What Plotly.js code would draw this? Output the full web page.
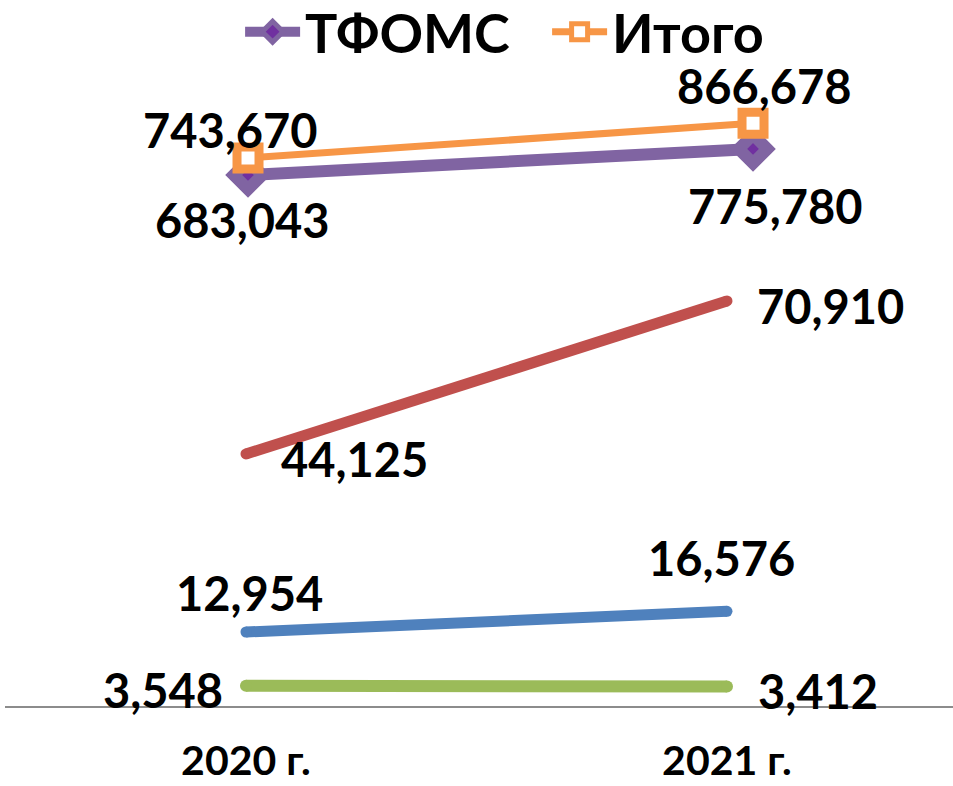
<!DOCTYPE html>
<html>
<head>
<meta charset="utf-8">
<script src="https://cdn.plot.ly/plotly-3.0.1.min.js"></script>
<style>html,body{margin:0;padding:0;background:#fff;}#chart{width:953px;height:786px;}</style>
</head>
<body>
<div id="chart"></div>
<script>
const categories = ["2020 г.", "2021 г."];
const seriesGreen = [3548, 3412];
const seriesBlue = [12954, 16576];
const seriesRed = [44125, 70910];
const seriesTfoms = [683043, 775780];
const seriesTotal = [743670, 866678];
const nameTfoms = "ТФОМС";
const nameTotal = "Итого";

const FONT = "Lato, 'Open Sans', sans-serif";
const fmt = v => v.toLocaleString("en-US");

function lineTrace(vals, color, w, xa, ya) {
  return {
    x: categories, y: vals, type: "scatter", mode: "lines+markers",
    line: {color: color, width: w},
    marker: {symbol: "circle", size: w, color: color},
    xaxis: xa, yaxis: ya, showlegend: false, hoverinfo: "skip"
  };
}

const traces = [
  lineTrace(seriesGreen, "#9BBB59", 12, "x", "y"),
  lineTrace(seriesBlue, "#4F81BD", 11, "x", "y"),
  lineTrace(seriesRed, "#C0504D", 11, "x", "y"),
  {
    x: categories, y: seriesTfoms, name: nameTfoms, type: "scatter", mode: "lines+markers",
    line: {color: "#8064A2", width: 12},
    marker: {symbol: "diamond", size: 22, color: "#7030A0", line: {color: "#8064A2", width: 12}},
    xaxis: "x2", yaxis: "y2", hoverinfo: "skip"
  },
  {
    x: categories, y: seriesTotal, name: nameTotal, type: "scatter", mode: "lines+markers",
    line: {color: "#F79646", width: 7},
    marker: {symbol: "square", size: 22, color: "#FFFFFF", line: {color: "#F79646", width: 9}},
    xaxis: "x2", yaxis: "y2", hoverinfo: "skip"
  }
];

function labels(vals, xref, yref, shifts) {
  return vals.map((v, i) => ({
    x: categories[i], y: v, xref: xref, yref: yref, text: fmt(v), showarrow: false,
    xshift: shifts[i][0], yshift: shifts[i][1],
    font: {family: FONT, size: 47, color: "#000", weight: 700}
  }));
}

const annotations = [].concat(
  labels(seriesGreen, "x", "y", [[-83, -4], [91, -4]]),
  labels(seriesBlue, "x", "y", [[4, 39], [-5, 53]]),
  labels(seriesRed, "x", "y", [[109, -5], [104, -5]]),
  labels(seriesTfoms, "x2", "y2", [[-6, -45], [22, -57]]),
  labels(seriesTotal, "x2", "y2", [[-18, 28], [11, 37]])
);

const layout = {
  width: 953, height: 786,
  margin: {l: 5, r: 0, t: 0, b: 80, autoexpand: false},
  paper_bgcolor: "#fff", plot_bgcolor: "#fff",
  font: {family: FONT, color: "#000"},
  showlegend: true,
  legend: {
    orientation: "h", x: 0.248, xanchor: "left", y: 1.014, yanchor: "top",
    font: {family: FONT, size: 54, color: "#000", weight: 700},
    bgcolor: "rgba(0,0,0,0)", itemwidth: 55, entrywidth: 237, entrywidthmode: "pixels"
  },
  xaxis: {
    type: "category", range: [-0.501, 1.4699],
    showline: true, linecolor: "#8c8c8c", linewidth: 2,
    showgrid: false, zeroline: false,
    ticks: "outside", ticklen: 18, tickcolor: "rgba(0,0,0,0)",
    tickfont: {family: FONT, size: 41, color: "#000", weight: 700}
  },
  xaxis2: {
    type: "category", overlaying: "x", range: [-0.4812, 1.396], visible: false
  },
  yaxis: {range: [0, 123600], visible: false, showgrid: false, zeroline: false},
  yaxis2: {overlaying: "y", range: [-1203200, 1304800], visible: false, showgrid: false, zeroline: false},
  annotations: annotations
};

Plotly.newPlot("chart", traces, layout, {staticPlot: true, displayModeBar: false});
</script>
</body>
</html>
